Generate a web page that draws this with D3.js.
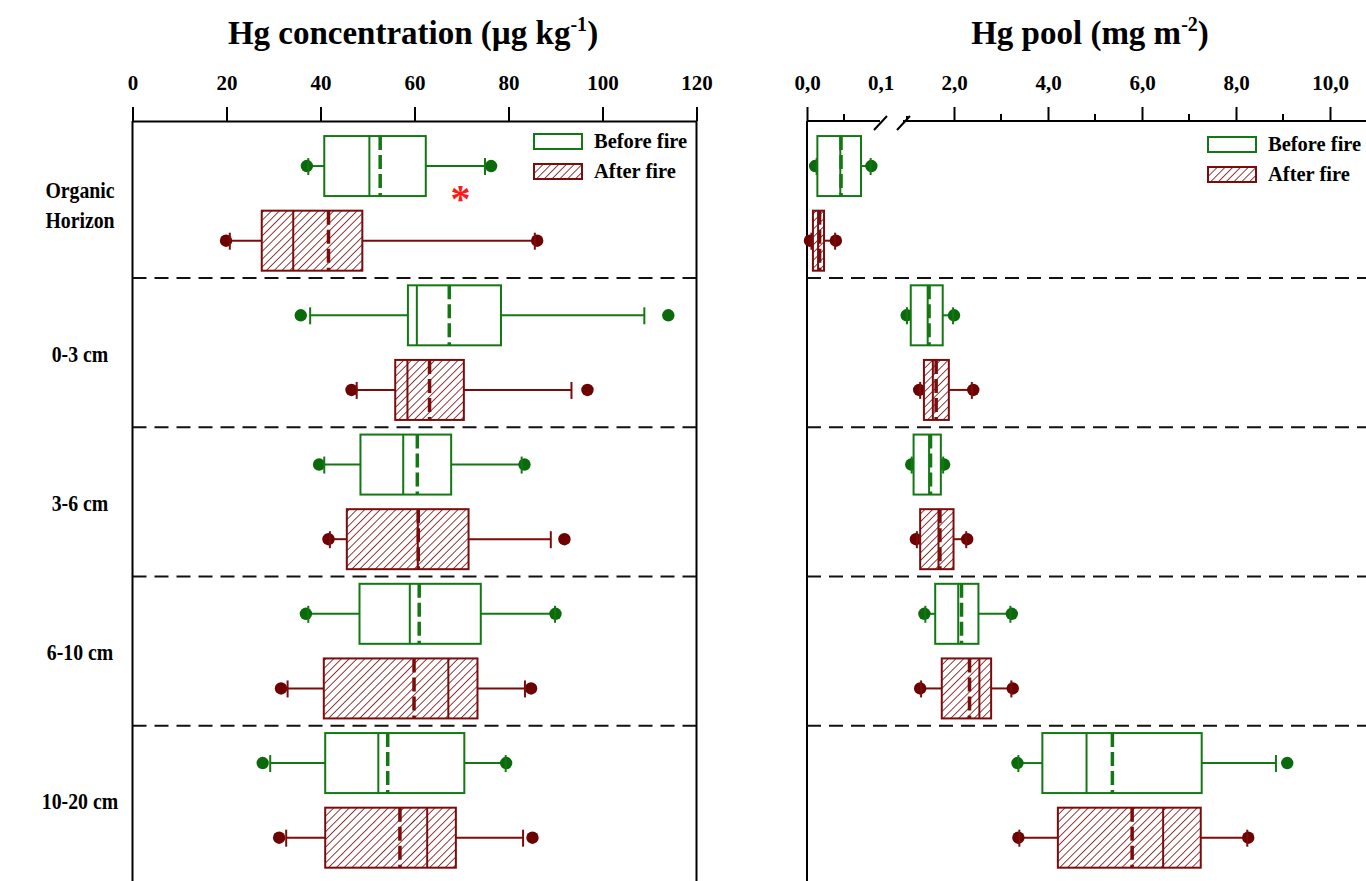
<!DOCTYPE html>
<meta charset="utf-8">
<script src="https://d3js.org/d3.v7.min.js"></script>
<style>
body { margin: 0; background: #fff; }
text { font-family: "Liberation Serif", "Times New Roman", serif; font-weight: bold; fill: #000; }
</style>
<div id="chart"></div>
<script>

// categories and groups
var depths = ["Organic Horizon", "0-3 cm", "3-6 cm", "6-10 cm", "10-20 cm"];
var groups = ["Before fire", "After fire"];

// one row per depth: [low point, whisker low, q1, median, mean, q3, whisker high, high point]
var concBefore = [
  [37.1, 37.4, 40.8, 50.4, 52.7, 62.4, 75.0, 76.3],
  [35.8, 37.8, 58.6, 60.5, 67.4, 78.4, 108.9, 114.0],
  [39.7, 40.8, 48.5, 57.6, 60.6, 67.8, 82.8, 83.4],
  [36.9, 37.4, 48.3, 59.0, 61.0, 74.1, 89.9, 90.0],
  [27.7, 29.3, 41.0, 52.3, 54.3, 70.6, 79.4, 79.5]
];
var concAfter = [
  [19.9, 20.7, 27.5, 34.2, 41.7, 48.9, 85.6, 86.1],
  [46.6, 47.7, 55.9, 58.5, 63.2, 70.5, 93.4, 96.8],
  [41.7, 42.0, 45.6, 60.7, 60.8, 71.5, 89.0, 91.9],
  [31.6, 33.0, 40.7, 67.2, 59.9, 73.4, 83.5, 84.8],
  [31.2, 32.7, 41.0, 62.7, 56.9, 68.8, 83.1, 85.1]
];
var poolBefore = [
  [0.011, 0.013, 0.014, 0.045, 0.046, 0.073, 0.086, 0.087],
  [0.99, 1.0, 1.08, 1.44, 1.47, 1.76, 1.98, 2.0],
  [1.09, 1.10, 1.14, 1.47, 1.50, 1.72, 1.77, 1.79],
  [1.37, 1.39, 1.60, 2.09, 2.16, 2.52, 3.20, 3.23],
  [3.35, 3.37, 3.88, 4.82, 5.37, 7.27, 8.85, 9.09]
];
var poolAfter = [
  [0.004, 0.006, 0.008, 0.015, 0.017, 0.023, 0.038, 0.039],
  [1.26, 1.28, 1.36, 1.55, 1.62, 1.89, 2.38, 2.41],
  [1.19, 1.21, 1.28, 1.67, 1.70, 1.99, 2.26, 2.28],
  [1.28, 1.30, 1.74, 2.54, 2.33, 2.79, 3.22, 3.25],
  [3.37, 3.39, 4.21, 6.45, 5.79, 7.25, 8.24, 8.26]
];

// tick labels
var concTicks = [0, 20, 40, 60, 80, 100, 120];
var poolTicks = [0, 2, 4, 6, 8, 10];
var poolBreakLabel = 0.1;
var poolMinorTicks = [0.05, 1, 3, 5, 7, 9, 11];

// significance mark (Organic horizon, concentration)
var starValue = 69.8;

var width = 1366, height = 881;
var axisY = 121;

var svg = d3.select("#chart")
  .append("svg")
    .attr("width", width)
    .attr("height", height);

var defs = svg.append("defs");
var hatch = defs.append("pattern")
    .attr("id", "hatch")
    .attr("patternUnits", "userSpaceOnUse")
    .attr("width", 5.5)
    .attr("height", 5.5)
    .attr("patternTransform", "rotate(45)");
hatch.append("rect").attr("width", 5.5).attr("height", 5.5).attr("fill", "#fff");
hatch.append("line")
    .attr("x1", 0).attr("y1", 0).attr("x2", 0).attr("y2", 5.5)
    .attr("stroke", "#7b0c0c").attr("stroke-width", 1.6);

// scales
var x1 = d3.scaleLinear().domain([0, 120]).range([132.5, 696.5]);
// broken axis: 0-0.1 stretched, then 1 onwards
var x2 = d3.scaleLinear().domain([0, 0.1, 1, 12.5]).range([807, 881, 907, 907 + 11.5 * 47]);

var y = d3.scaleBand().domain(depths).range([128.75, 875]);
var ySub = d3.scalePoint().domain(groups).range([0, y.bandwidth()]).padding(0.5);
var boxH = 60;

var colors = {
  "Before fire": {line: "#137813", dot: "#0b6a0b", fill: "#fff"},
  "After fire": {line: "#7b0c0c", dot: "#6c0202", fill: "url(#hatch)"}
};

var comma = function(d) { return d3.format(".1f")(d).replace(".", ","); };

// ---------- left axis ----------
var axL = svg.append("g")
    .attr("transform", "translate(0," + axisY + ")")
    .call(d3.axisTop(x1).tickValues(concTicks).tickSize(14).tickSizeOuter(0).tickPadding(17).tickFormat(d3.format("d")));
axL.select(".domain").attr("stroke-width", 2);
axL.selectAll(".tick line").attr("stroke-width", 2);
axL.selectAll("text").style("font-size", "21px").style("font-family", "Liberation Serif").attr("fill", "#000");

// ---------- right axis (broken) ----------
var axR = svg.append("g")
    .attr("transform", "translate(0," + axisY + ")")
    .call(d3.axisTop(x2).tickValues(poolTicks).tickSize(14).tickSizeOuter(0).tickPadding(17).tickFormat(comma));
axR.select(".domain").remove();
axR.selectAll(".tick line").attr("stroke-width", 2);
axR.selectAll("text").style("font-size", "21px").style("font-family", "Liberation Serif").attr("fill", "#000");

axR.append("text")
    .attr("x", x2(poolBreakLabel))
    .attr("y", -31)
    .attr("text-anchor", "middle")
    .style("font-size", "21px")
    .text(comma(poolBreakLabel));

axR.selectAll(".minor")
  .data(poolMinorTicks)
  .enter().append("line")
    .attr("class", "minor")
    .attr("x1", function(d) { return x2(d); })
    .attr("x2", function(d) { return x2(d); })
    .attr("y1", function(d) { return d == 1 ? -5 : -7; })
    .attr("y2", 0)
    .attr("stroke", "#000")
    .attr("stroke-width", 2);

var breakL = x2(poolBreakLabel) - 1, breakR = x2(1) - 4;
axR.append("line").attr("x1", x2(0)).attr("x2", breakL).attr("y1", 0).attr("y2", 0)
    .attr("stroke", "#000").attr("stroke-width", 2);
axR.append("line").attr("x1", breakR).attr("x2", width).attr("y1", 0).attr("y2", 0)
    .attr("stroke", "#000").attr("stroke-width", 2);
[breakL, breakR].forEach(function(bx) {
  axR.append("line")
      .attr("x1", bx - 6).attr("y1", 9)
      .attr("x2", bx + 7).attr("y2", -5)
      .attr("stroke", "#000").attr("stroke-width", 2);
});

// ---------- frame lines ----------
svg.append("line").attr("x1", x1(0)).attr("x2", x1(0)).attr("y1", axisY).attr("y2", height)
    .attr("stroke", "#000").attr("stroke-width", 2);
svg.append("line").attr("x1", x1(120)).attr("x2", x1(120)).attr("y1", axisY).attr("y2", height)
    .attr("stroke", "#000").attr("stroke-width", 2);
svg.append("line").attr("x1", x2(0)).attr("x2", x2(0)).attr("y1", axisY).attr("y2", height)
    .attr("stroke", "#000").attr("stroke-width", 2);

// dashed row separators
var seps = depths.slice(1);
svg.selectAll(".sepL")
  .data(seps)
  .enter().append("line")
    .attr("x1", x1(0)).attr("x2", x1(120) + 3)
    .attr("y1", function(d) { return y(d); })
    .attr("y2", function(d) { return y(d); })
    .attr("stroke", "#111").attr("stroke-width", 2).attr("stroke-dasharray", "14,8");
svg.selectAll(".sepR")
  .data(seps)
  .enter().append("line")
    .attr("x1", x2(0)).attr("x2", width)
    .attr("y1", function(d) { return y(d); })
    .attr("y2", function(d) { return y(d); })
    .attr("stroke", "#111").attr("stroke-width", 2).attr("stroke-dasharray", "14,8");

// ---------- box plots ----------
function drawBoxes(xs, series, group) {
  var c = colors[group];
  var g = svg.append("g").selectAll("g")
    .data(series)
    .enter().append("g")
      .attr("transform", function(d, i) { return "translate(0," + (y(depths[i]) + ySub(group)) + ")"; });

  // whiskers
  g.append("line")
      .attr("x1", function(d) { return xs(d[1]); })
      .attr("x2", function(d) { return xs(d[2]); })
      .attr("stroke", c.line).attr("stroke-width", 2);
  g.append("line")
      .attr("x1", function(d) { return xs(d[5]); })
      .attr("x2", function(d) { return xs(d[6]); })
      .attr("stroke", c.line).attr("stroke-width", 2);

  // outlying points
  [0, 7].forEach(function(k) {
    g.append("circle")
        .attr("cx", function(d) { return xs(d[k]); })
        .attr("r", 6.2)
        .attr("fill", c.dot);
  });

  // caps
  [1, 6].forEach(function(k) {
    g.append("line")
        .attr("x1", function(d) { return xs(d[k]); })
        .attr("x2", function(d) { return xs(d[k]); })
        .attr("y1", -8).attr("y2", 9)
        .attr("stroke", c.line).attr("stroke-width", 2);
  });

  // box
  g.append("rect")
      .attr("x", function(d) { return xs(d[2]); })
      .attr("width", function(d) { return xs(d[5]) - xs(d[2]); })
      .attr("y", -boxH / 2)
      .attr("height", boxH)
      .attr("fill", c.fill)
      .attr("stroke", c.line).attr("stroke-width", 2);

  // median
  g.append("line")
      .attr("x1", function(d) { return xs(d[3]); })
      .attr("x2", function(d) { return xs(d[3]); })
      .attr("y1", -boxH / 2).attr("y2", boxH / 2)
      .attr("stroke", c.line).attr("stroke-width", 2);

  // mean
  g.append("line")
      .attr("x1", function(d) { return xs(d[4]); })
      .attr("x2", function(d) { return xs(d[4]); })
      .attr("y1", -boxH / 2).attr("y2", boxH / 2)
      .attr("stroke", c.line).attr("stroke-width", 3.5)
      .attr("stroke-dasharray", "14,5");
}

drawBoxes(x1, concBefore, "Before fire");
drawBoxes(x1, concAfter, "After fire");
drawBoxes(x2, poolBefore, "Before fire");
drawBoxes(x2, poolAfter, "After fire");

// significance star
svg.append("text")
    .attr("x", x1(starValue))
    .attr("y", y(depths[0]) + 83)
    .attr("text-anchor", "middle")
    .style("font-size", "40px")
    .style("fill", "#ff1a1a")
    .text("*");

// ---------- row labels ----------
var labX = 80;
svg.selectAll(".rowlab")
  .data(depths)
  .enter().append("text")
    .attr("class", "rowlab")
    .attr("transform", function(d) {
      var yy = y(d) + y.bandwidth() / 2 + (d.indexOf("Horizon") >= 0 ? -5 : 9);
      return "translate(" + labX + "," + yy + ") scale(0.86,1)";
    })
    .attr("text-anchor", "middle")
    .style("font-size", "23px")
    .each(function(d) {
      var words = d.indexOf("Horizon") >= 0 ? d.split(" ") : [d];
      var t = d3.select(this);
      words.forEach(function(w, i) {
        t.append("tspan").attr("x", 0).attr("dy", i ? 30 : 0).text(w);
      });
    });

// ---------- legends ----------
function legend(x0, y0) {
  var lg = svg.append("g").attr("transform", "translate(" + x0 + "," + y0 + ")");
  groups.forEach(function(gr, i) {
    lg.append("rect")
        .attr("x", 0).attr("y", i * 30)
        .attr("width", 48).attr("height", 15)
        .attr("fill", colors[gr].fill)
        .attr("stroke", colors[gr].line).attr("stroke-width", 2);
    lg.append("text")
        .attr("x", 60).attr("y", i * 30 + 14)
        .style("font-size", "20.5px")
        .text(gr);
  });
}
legend(534, 134);
legend(1208, 137);

// ---------- titles ----------
function title(cx, main, sup) {
  var t = svg.append("text")
      .attr("x", cx).attr("y", 44)
      .attr("text-anchor", "middle")
      .style("font-size", "33px");
  t.append("tspan").text(main);
  t.append("tspan").attr("dy", -13).style("font-size", "20px").text(sup);
  t.append("tspan").attr("dy", 13).text(")");
}
title(413, "Hg concentration (\u00b5g kg", "-1");
title(1090, "Hg pool (mg m", "-2");

</script>
